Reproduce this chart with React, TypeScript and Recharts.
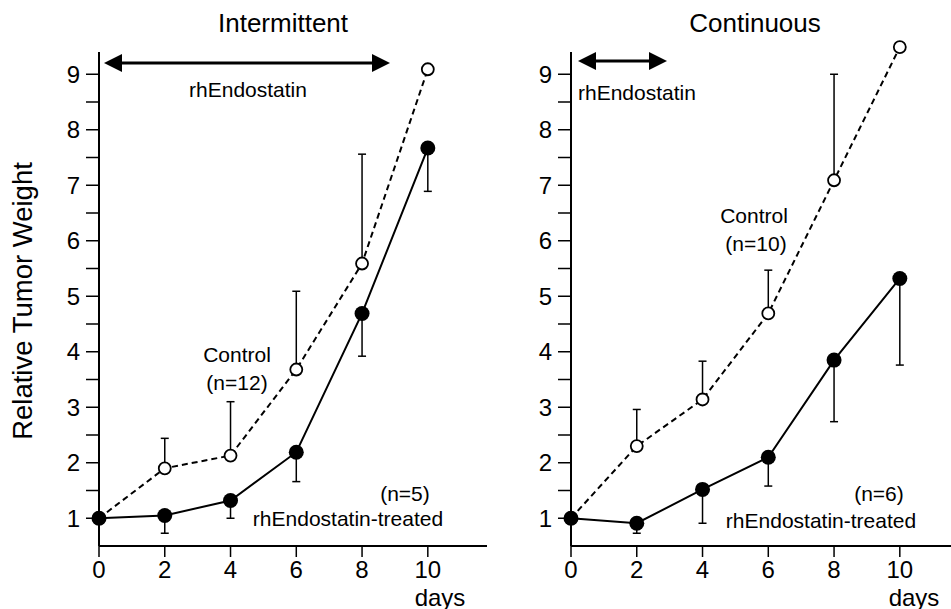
import { ErrorBar, Line, LineChart, ReferenceLine, XAxis, YAxis } from "recharts";

const days = [0, 2, 4, 6, 8, 10];

// Intermittent panel
const intControl = [1, 1.9, 2.13, 3.68, 5.59, 9.09];
const intControlErr = [0, 0.54, 0.97, 1.41, 1.97, 0];
const intTreated = [1, 1.05, 1.32, 2.19, 4.69, 7.67];
const intTreatedErr = [0, 0.32, 0.32, 0.53, 0.77, 0.78];

// Continuous panel
const conControl = [1, 2.3, 3.14, 4.69, 7.09, 9.49];
const conControlErr = [0, 0.66, 0.69, 0.78, 1.91, 0];
const conTreated = [1, 0.91, 1.52, 2.1, 3.85, 5.32];
const conTreatedErr = [0, 0.18, 0.61, 0.52, 1.11, 1.56];

const xTicks = [0, 2, 4, 6, 8, 10];
const yTicks = [1, 1.5, 2, 2.5, 3, 3.5, 4, 4.5, 5, 5.5, 6, 6.5, 7, 7.5, 8, 8.5, 9];

const FONT = "'Liberation Sans', Arial, Helvetica, sans-serif";

function buildRows(control: number[], cErr: number[], treated: number[], tErr: number[]) {
  return days.map((d, i) => ({
    day: d,
    control: control[i],
    controlErr: [0, cErr[i]],
    treated: treated[i],
    treatedErr: [tErr[i], 0],
  }));
}

function Panel({ rows, left }: { rows: ReturnType<typeof buildRows>; left: number }) {
  return (
    <div style={{ position: "absolute", left, top: 0 }}>
      <LineChart
        width={490}
        height={609}
        data={rows}
        margin={{ top: 46.5, right: 3, bottom: 33, left: 59 }}
      >
        <XAxis
          type="number"
          dataKey="day"
          domain={[0, 11.8]}
          ticks={xTicks}
          height={30}
          tickSize={11}
          tickMargin={4}
          axisLine={{ stroke: "#000", strokeWidth: 2 }}
          tickLine={{ stroke: "#000", strokeWidth: 1.5 }}
          tick={{ fill: "#000", fontSize: 24, fontFamily: FONT }}
        />
        <YAxis
          type="number"
          domain={[0.5, 9.5]}
          ticks={yTicks}
          width={40}
          tickSize={13}
          tickMargin={6}
          interval={0}
          tickFormatter={(v: number) => (Number.isInteger(v) ? String(v) : "")}
          axisLine={false}
          tickLine={{ stroke: "#000", strokeWidth: 1.5 }}
          tick={{ fill: "#000", fontSize: 24, fontFamily: FONT }}
        />
        <ReferenceLine
          segment={[
            { x: 0, y: 0.5 },
            { x: 0, y: 9.4 },
          ]}
          stroke="#000"
          strokeWidth={2}
        />
        <Line
          dataKey="control"
          stroke="#000"
          strokeWidth={2}
          strokeDasharray="6 4"
          isAnimationActive={false}
          activeDot={false}
          dot={{ r: 6, fill: "#fff", stroke: "#000", strokeWidth: 1.8, strokeDasharray: "" }}
        >
          <ErrorBar dataKey="controlErr" width={4} stroke="#000" strokeWidth={1.5} direction="y" />
        </Line>
        <Line
          dataKey="treated"
          stroke="#000"
          strokeWidth={2}
          isAnimationActive={false}
          activeDot={false}
          dot={{ r: 7.5, fill: "#000", stroke: "#000", strokeWidth: 0 }}
        >
          <ErrorBar dataKey="treatedErr" width={4} stroke="#000" strokeWidth={1.5} direction="y" />
        </Line>
      </LineChart>
    </div>
  );
}

function Arrow({ x1, x2, y }: { x1: number; x2: number; y: number }) {
  const h = 18;
  const w = 9;
  return (
    <g>
      <line x1={x1 + h - 2} x2={x2 - h + 2} y1={y} y2={y} stroke="#000" strokeWidth={3} />
      <polygon points={`${x1},${y} ${x1 + h},${y - w} ${x1 + h},${y + w}`} fill="#000" />
      <polygon points={`${x2},${y} ${x2 - h},${y - w} ${x2 - h},${y + w}`} fill="#000" />
    </g>
  );
}

export default function App() {
  const intRows = buildRows(intControl, intControlErr, intTreated, intTreatedErr);
  const conRows = buildRows(conControl, conControlErr, conTreated, conTreatedErr);
  const t = { fontFamily: FONT, fill: "#000", dominantBaseline: "central" as const };
  return (
    <div
      style={{
        position: "absolute",
        left: 0,
        top: 0,
        width: 951,
        height: 609,
        overflow: "hidden",
        background: "#fff",
      }}
    >
      <Panel rows={intRows} left={0} />
      <Panel rows={conRows} left={472} />
      <svg
        width={951}
        height={609}
        style={{ position: "absolute", left: 0, top: 0, pointerEvents: "none" }}
      >
        <text {...t} x={283} y={23} fontSize={26} textAnchor="middle">Intermittent</text>
        <text {...t} x={755} y={23} fontSize={26} textAnchor="middle">Continuous</text>
        <text
          {...t}
          x={22}
          y={301}
          fontSize={27.5}
          textAnchor="middle"
          transform="rotate(-90 22 301)"
        >
          Relative Tumor Weight
        </text>

        <Arrow x1={104} x2={390} y={63} />
        <Arrow x1={578} x2={667} y={61} />
        <text {...t} x={248} y={89} fontSize={21} textAnchor="middle">rhEndostatin</text>
        <text {...t} x={578} y={92} fontSize={21} textAnchor="start">rhEndostatin</text>

        <text {...t} x={237} y={354} fontSize={21} textAnchor="middle">Control</text>
        <text {...t} x={237} y={382} fontSize={21} textAnchor="middle">(n=12)</text>
        <text {...t} x={405} y={493} fontSize={21} textAnchor="middle">(n=5)</text>
        <text {...t} x={348} y={518} fontSize={21} textAnchor="middle">rhEndostatin-treated</text>

        <text {...t} x={754} y={215} fontSize={21} textAnchor="middle">Control</text>
        <text {...t} x={756} y={243} fontSize={21} textAnchor="middle">(n=10)</text>
        <text {...t} x={879} y={493} fontSize={21} textAnchor="middle">(n=6)</text>
        <text {...t} x={821} y={520} fontSize={21} textAnchor="middle">rhEndostatin-treated</text>

        <text {...t} x={440} y={597} fontSize={24} textAnchor="middle">days</text>
        <text {...t} x={914} y={597} fontSize={24} textAnchor="middle">days</text>
      </svg>
    </div>
  );
}
